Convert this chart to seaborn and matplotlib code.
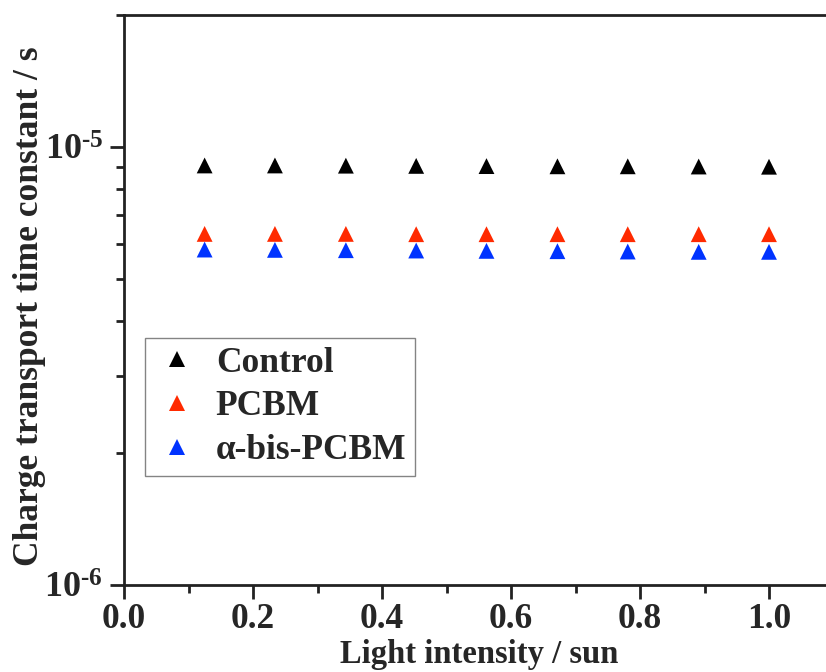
import matplotlib
matplotlib.use("Agg")
import matplotlib.pyplot as plt
import matplotlib.ticker as mticker
import numpy as np
import pandas as pd
import seaborn as sns

# Light intensity (sun) and charge transport time constants (s)
light_intensity = [0.125, 0.234, 0.344, 0.453, 0.562, 0.672, 0.781, 0.891, 1.0]
tau_control = [9.07e-6, 9.07e-6, 9.06e-6, 9.05e-6, 9.04e-6, 9.03e-6, 9.03e-6, 9.02e-6, 9.01e-6]
tau_pcbm = [6.33e-6, 6.33e-6, 6.33e-6, 6.32e-6, 6.32e-6, 6.32e-6, 6.32e-6, 6.32e-6, 6.32e-6]
tau_bis_pcbm = [5.83e-6, 5.82e-6, 5.81e-6, 5.80e-6, 5.79e-6, 5.78e-6, 5.77e-6, 5.76e-6, 5.76e-6]
series_names = ["Control", "PCBM", "\u03b1-bis-PCBM"]
series_colors = ["#000000", "#ff2a00", "#0033ff"]

x_ticks = [0.0, 0.2, 0.4, 0.6, 0.8, 1.0]
x_tick_labels = ["0.0", "0.2", "0.4", "0.6", "0.8", "1.0"]
y_ticks = [1e-6, 1e-5]
y_tick_labels = [r"$\mathbf{10^{\text{-}6}}$", r"$\mathbf{10^{\text{-}5}}$"]

df = pd.DataFrame({
    "x": light_intensity * 3,
    "tau": tau_control + tau_pcbm + tau_bis_pcbm,
    "sample": [n for n in series_names for _ in light_intensity],
})

sns.set_style("ticks")
plt.rcParams["font.family"] = ["Liberation Serif", "DejaVu Serif"]
plt.rcParams["font.weight"] = "bold"
plt.rcParams["mathtext.fontset"] = "custom"
plt.rcParams["mathtext.rm"] = "Liberation Serif:bold"
plt.rcParams["mathtext.bf"] = "Liberation Serif:bold"
plt.rcParams["mathtext.it"] = "Liberation Serif:bold"

fig = plt.figure(figsize=(8.26, 6.72), dpi=100)
ax = fig.add_axes([124 / 826, 87 / 672, 709.5 / 826, 570 / 672])

sns.scatterplot(data=df, x="x", y="tau", hue="sample", hue_order=series_names,
                palette=series_colors, marker="^", s=130, linewidth=0,
                ax=ax, legend=True)

ax.set_yscale("log")
ax.set_xlim(0.0, 1.1)
ax.set_ylim(1e-6, 2e-5)

ax.set_xticks(x_ticks)
ax.set_xticklabels(x_tick_labels)
ax.xaxis.set_minor_locator(mticker.MultipleLocator(0.1))
ax.set_yticks(y_ticks)
ax.set_yticklabels(y_tick_labels)
ax.yaxis.set_minor_locator(mticker.LogLocator(base=10, subs=np.arange(2, 10)))
ax.yaxis.set_minor_formatter(mticker.NullFormatter())

for sp in ax.spines.values():
    sp.set_linewidth(2.0)
    sp.set_color("#222222")
ax.tick_params(which="major", direction="out", length=10, width=2, labelsize=26,
               color="#222222", pad=5)
ax.tick_params(axis="x", which="major", labelsize=25.5, pad=3)
ax.tick_params(which="minor", direction="out", length=5.5, width=2, color="#222222")
for lab in ax.get_xticklabels() + ax.get_yticklabels():
    lab.set_fontweight("bold")

ax.set_xlabel("Light intensity / sun", fontsize=23.5, fontweight="bold")
ax.set_ylabel("Charge transport time constant / s", fontsize=25.5, fontweight="bold")
# x label sits on the bottom edge of the figure
ax.xaxis.set_label_coords(0.5 * (124 + 833.5) / 826, 1.5 / 672, transform=fig.transFigure)
ax.xaxis.label.set_verticalalignment("bottom")
ax.yaxis.set_label_coords(-0.11, 0.49)

leg = ax.legend(loc="upper left", bbox_to_anchor=(145 / 826, 1 - 338 / 672),
                bbox_transform=fig.transFigure, borderaxespad=0, frameon=True,
                fancybox=False, edgecolor="#666666", fontsize=25.5, markerscale=1.0,
                handletextpad=0.45, borderpad=0.25, labelspacing=0.3, handlelength=1.3)
leg.get_frame().set_linewidth(1.0)
for t in leg.get_texts():
    t.set_fontweight("bold")

fig.savefig("out.png", dpi=100)
